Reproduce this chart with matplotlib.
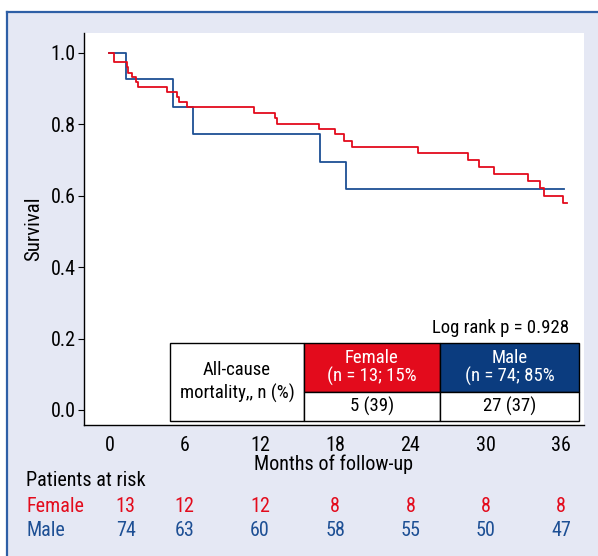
import matplotlib
matplotlib.use("Agg")
import matplotlib.pyplot as plt
from matplotlib.patches import Rectangle
from matplotlib.lines import Line2D
from matplotlib.transforms import blended_transform_factory
from matplotlib import font_manager

names = {f.name for f in font_manager.fontManager.ttflist}
fam = [n for n in ['Roboto Condensed', 'Liberation Sans Narrow', 'DejaVu Sans Condensed', 'Roboto'] if n in names]
plt.rcParams['font.family'] = fam + ['DejaVu Sans']

# --- data ---
female_t = [0, 0.38, 1.37, 1.47, 1.79, 2.09, 2.27, 4.61, 5.41, 5.52, 6.2, 11.55, 13.2, 13.36,
            16.7, 17.98, 18.68, 19.34, 24.6, 28.6, 29.5, 30.7, 33.35, 34.33, 34.65, 36.14, 36.46]
female_s = [1.0, 0.973, 0.959, 0.944, 0.932, 0.918, 0.903, 0.890, 0.875, 0.861, 0.847, 0.831, 0.817, 0.80,
            0.786, 0.771, 0.754, 0.737, 0.719, 0.699, 0.680, 0.661, 0.642, 0.620, 0.600, 0.578, 0.578]
male_t = [0, 1.29, 5.04, 6.64, 16.8, 18.9, 36.27]
male_s = [1.0, 0.925, 0.849, 0.773, 0.695, 0.619, 0.619]

months = [0, 6, 12, 18, 24, 30, 36]
female_risk = [13, 12, 12, 8, 8, 8, 8]
male_risk = [74, 63, 60, 58, 55, 50, 47]

RED = '#E30B1C'; BLUE = '#1D4F94'; NAVY = '#0B3C7F'; BG = '#E5E8F4'; FRAME = '#2E5FA6'
FS = 14.5   # axis / risk table text
TS = 13.5   # text inside the plot

fig = plt.figure(figsize=(5.98, 5.56), dpi=100, facecolor='white')
fig.add_artist(Rectangle((0.0122, 0), 1, 0.979, transform=fig.transFigure, facecolor=BG, edgecolor='none', zorder=-10))
fig.add_artist(Line2D([0.0122, 0.0122], [0, 0.979], transform=fig.transFigure, color=FRAME, lw=1.6))
fig.add_artist(Line2D([0.0122, 1], [0.979, 0.979], transform=fig.transFigure, color=FRAME, lw=1.6))

ax = fig.add_axes([84/598, 1-425/556, 500/598, 392/556])
ax.set_facecolor('white')
ax.step(female_t, female_s, where='post', color=RED, lw=1.3, zorder=3)
ax.step(male_t, male_s, where='post', color=BLUE, lw=1.3, zorder=2)
ax.set_xlim(-2.03, 37.84); ax.set_ylim(-0.042, 1.055)
ax.set_yticks([0, 0.2, 0.4, 0.6, 0.8, 1.0]); ax.set_yticklabels(['0.0', '0.2', '0.4', '0.6', '0.8', '1.0'])
ax.set_xticks(months)
ax.tick_params(axis='y', labelsize=FS, length=4, width=0.8, pad=2)
ax.tick_params(axis='x', labelsize=FS, length=0, pad=8)
for s in ['top', 'right']: ax.spines[s].set_visible(False)
ax.spines['left'].set_linewidth(1.0); ax.spines['bottom'].set_linewidth(1.0)
ax.set_ylabel('Survival', fontsize=FS+0.5, labelpad=5)
ax.set_xlabel('Months of follow-up', fontsize=FS, va='top')
ax.xaxis.set_label_coords(0.5, (425-454)/392)

# --- mortality table inside the plot ---
ax.text(0.97, 0.248, 'Log rank p = 0.928', transform=ax.transAxes, ha='right', va='center', fontsize=TS)
L, C1, C2, R = 0.172, 0.44, 0.712, 0.9906
T, M, B = 0.2084, 0.0834, 0.011
cells = [(L, B, C1-L, T-B, 'white'), (C1, M, C2-C1, T-M, RED), (C2, M, R-C2, T-M, NAVY),
         (C1, B, C2-C1, M-B, 'white'), (C2, B, R-C2, M-B, 'white')]
for x0, y0, w, h, fc in cells:
    ax.add_patch(Rectangle((x0, y0), w, h, transform=ax.transAxes, facecolor=fc, edgecolor='black', lw=1.0, zorder=5, clip_on=False))
ax.text((L+C1)/2, (T+B)/2, 'All-cause\nmortality,, n (%)', transform=ax.transAxes, ha='center', va='center', fontsize=TS, zorder=6, linespacing=1.3)
ax.text((C1+C2)/2, (T+M)/2, 'Female\n(n = 13; 15%', transform=ax.transAxes, ha='center', va='center', fontsize=TS, color='white', zorder=6, linespacing=1.0)
ax.text((C2+R)/2, (T+M)/2, 'Male\n(n = 74; 85%', transform=ax.transAxes, ha='center', va='center', fontsize=TS, color='white', zorder=6, linespacing=1.0)
ax.text((C1+C2)/2, (M+B)/2, '5 (39)', transform=ax.transAxes, ha='center', va='center', fontsize=TS, zorder=6)
ax.text((C2+R)/2, (M+B)/2, '27 (37)', transform=ax.transAxes, ha='center', va='center', fontsize=TS, zorder=6)

# --- patients at risk ---
tr = blended_transform_factory(ax.transData, fig.transFigure)
fig.text(26/598, 1-480/556, 'Patients at risk', fontsize=FS, va='center')
fig.text(26/598, 1-506/556, 'Female', fontsize=FS, va='center', color=RED)
fig.text(26/598, 1-530/556, 'Male', fontsize=FS, va='center', color=BLUE)
for i, m in enumerate(months):
    xm = m + (1.3 if i == 0 else 0)
    fig.text(xm, 1-506/556, str(female_risk[i]), transform=tr, ha='center', va='center', fontsize=FS, color=RED)
    fig.text(xm, 1-530/556, str(male_risk[i]), transform=tr, ha='center', va='center', fontsize=FS, color=BLUE)

fig.savefig('out.png', dpi=100, facecolor=fig.get_facecolor())
